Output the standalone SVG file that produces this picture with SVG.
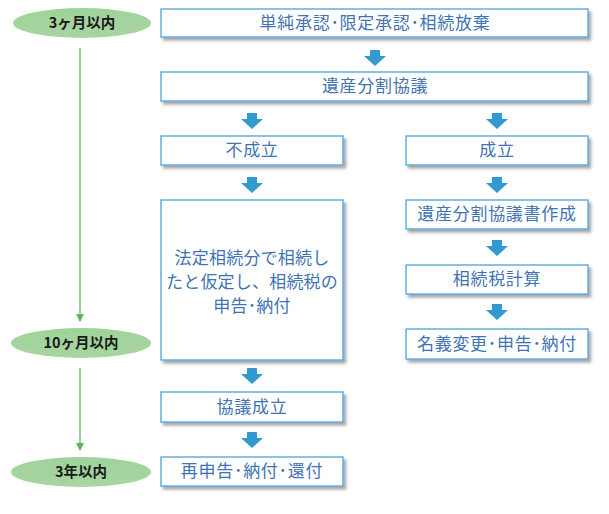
<svg xmlns="http://www.w3.org/2000/svg" width="609" height="514" viewBox="0 0 609 514">
<style>
.box{fill:#ffffff;stroke:#4ea3dc;stroke-width:1.3;filter:url(#sh)}
.bt{font-family:"Noto Sans CJK JP","Noto Sans CJK SC",sans-serif;font-size:17px;fill:#3f73b4;text-anchor:middle;letter-spacing:0.7px}
.el{fill:url(#gg)}
.et{font-family:"Noto Sans CJK JP","Noto Sans CJK SC",sans-serif;font-size:14.5px;font-weight:bold;fill:#1a1a1a;text-anchor:middle}
.arr{fill:#3399d0}
.gl{stroke:#5cb85c;stroke-width:1.3;fill:none}
</style>
<defs>
<filter id="sh" x="-10%" y="-20%" width="125%" height="150%">
<feDropShadow dx="2.5" dy="3" stdDeviation="1.5" flood-color="#000" flood-opacity="0.35"/>
</filter>
<linearGradient id="gg" x1="0" y1="0" x2="0" y2="1">
<stop offset="0" stop-color="#9fd39a"/>
<stop offset="1" stop-color="#a8d5a0"/>
</linearGradient>
<marker id="ga" markerWidth="8" markerHeight="8" refX="7" refY="4" orient="auto" markerUnits="userSpaceOnUse">
<path d="M0,0 L8,4 L0,8 Z" fill="#5cb85c"/>
</marker>
<path id="ba" d="M-5,0 H5 V6 H11 L0,16 L-11,6 H-5 Z"/>
</defs>

<g id="connectors">
<use href="#ba" class="arr" x="375" y="50"/>
<use href="#ba" class="arr" x="252" y="113"/>
<use href="#ba" class="arr" x="497" y="113"/>
<use href="#ba" class="arr" x="252" y="177"/>
<use href="#ba" class="arr" x="497" y="177"/>
<use href="#ba" class="arr" x="497" y="240"/>
<use href="#ba" class="arr" x="497" y="304"/>
<use href="#ba" class="arr" x="252" y="368"/>
<use href="#ba" class="arr" x="252" y="432"/>
<line class="gl" x1="80" y1="48" x2="80" y2="321" marker-end="url(#ga)"/>
<line class="gl" x1="80" y1="368" x2="80" y2="450" marker-end="url(#ga)"/>
</g>

<g id="e1"><ellipse class="el" cx="82" cy="23" rx="69" ry="15"/><text class="et" x="82" y="28">3ヶ月以内</text></g>
<g id="e2"><ellipse class="el" cx="81" cy="343" rx="70" ry="15"/><text class="et" x="81" y="348">10ヶ月以内</text></g>
<g id="e3"><ellipse class="el" cx="81" cy="472" rx="70" ry="15"/><text class="et" x="81" y="477">3年以内</text></g>

<g id="n1"><rect class="box" x="161" y="9" width="427" height="28"/><text class="bt" x="375" y="29">単純承認･限定承認･相続放棄</text></g>
<g id="n2"><rect class="box" x="161" y="72" width="427" height="29"/><text class="bt" x="375" y="92">遺産分割協議</text></g>
<g id="n3"><rect class="box" x="161" y="136" width="182" height="29"/><text class="bt" x="252" y="156">不成立</text></g>
<g id="n4"><rect class="box" x="406" y="136" width="182" height="29"/><text class="bt" x="497" y="156">成立</text></g>
<g id="n5"><rect class="box" x="161" y="200" width="182" height="160"/>
<text class="bt" x="252" y="264" style="letter-spacing:0.2px">法定相続分で相続し</text>
<text class="bt" x="252" y="288" style="letter-spacing:0.2px">たと仮定し、相続税の</text>
<text class="bt" x="252" y="312" style="letter-spacing:0.2px">申告･納付</text></g>
<g id="n6"><rect class="box" x="406" y="200" width="182" height="29"/><text class="bt" x="497" y="220">遺産分割協議書作成</text></g>
<g id="n7"><rect class="box" x="406" y="265" width="182" height="29"/><text class="bt" x="497" y="285">相続税計算</text></g>
<g id="n8"><rect class="box" x="406" y="329" width="182" height="30"/><text class="bt" x="497" y="350">名義変更･申告･納付</text></g>
<g id="n9"><rect class="box" x="161" y="392" width="182" height="30"/><text class="bt" x="252" y="413">協議成立</text></g>
<g id="n10"><rect class="box" x="161" y="457" width="182" height="29"/><text class="bt" x="252" y="477">再申告･納付･還付</text></g>
</svg>
